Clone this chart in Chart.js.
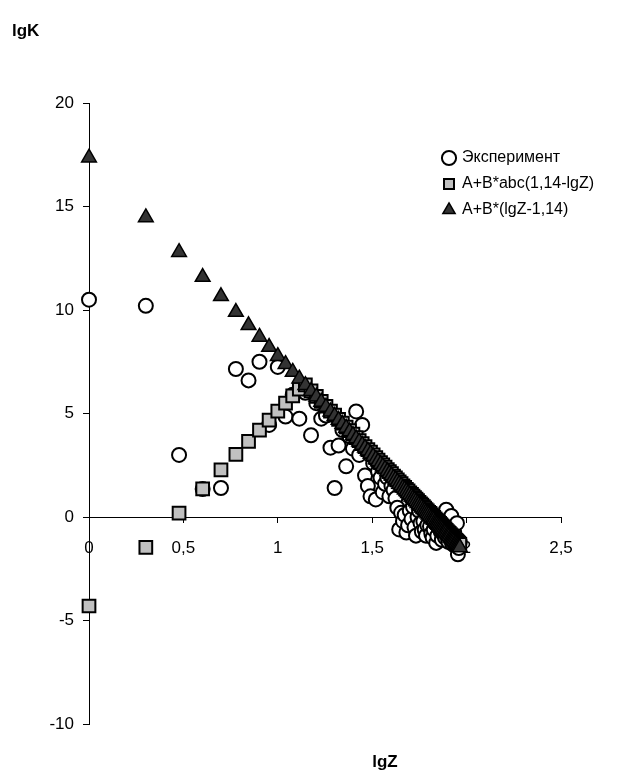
<!DOCTYPE html>
<html>
<head>
<meta charset="utf-8">
<script src="https://cdn.jsdelivr.net/npm/chart.js@4.4.1/dist/chart.umd.min.js"></script>
<style>
  html, body { margin: 0; padding: 0; background: #fff; }
  canvas { display: block; }
</style>
</head>
<body>
<canvas id="c" width="642" height="772"></canvas>
<script>
// ---- data ----
const lgZ = [0, 0.301, 0.477, 0.602, 0.699, 0.778, 0.845, 0.903, 0.954, 1,
  1.041, 1.079, 1.114, 1.146, 1.176, 1.204, 1.23, 1.255, 1.279, 1.301,
  1.322, 1.342, 1.362, 1.38, 1.398, 1.415, 1.431, 1.447, 1.462, 1.477,
  1.491, 1.505, 1.519, 1.531, 1.544, 1.556, 1.568, 1.58, 1.591, 1.602,
  1.613, 1.623, 1.633, 1.643, 1.653, 1.663, 1.672, 1.681, 1.69, 1.699,
  1.708, 1.716, 1.724, 1.732, 1.74, 1.748, 1.756, 1.763, 1.771, 1.778,
  1.785, 1.792, 1.799, 1.806, 1.813, 1.82, 1.826, 1.833, 1.839, 1.845,
  1.851, 1.857, 1.863, 1.869, 1.875, 1.881, 1.886, 1.892, 1.898, 1.903,
  1.908, 1.914, 1.919, 1.924, 1.929, 1.934, 1.94, 1.944, 1.949, 1.954,
  1.959, 1.964];

const experiment = [10.5, 10.2, 3.0, 1.35, 1.4, 7.15, 6.6, 7.5, 4.45, 7.25,
  4.85, 5.9, 4.75, 6.0, 3.95, 5.5, 4.75, 4.9, 3.35, 1.4,
  3.45, 4.2, 2.45, 3.9, 3.3, 5.1, 3.0, 4.45, 2.0, 1.5,
  1.0, 2.6, 0.85, 2.2, 1.9, 1.2, 1.6, 1.9, 1.0, 1.5,
  1.3, 0.9, 0.45, -0.6, 0.2, -0.2, 0.1, -0.75, -0.4, 0.3,
  -0.1, 0.5, -0.5, -0.9, 0.0, 0.3, -0.3, -0.7, -0.2, -0.6,
  -0.9, -0.4, 0.1, -0.45, -0.8, -1.0, -0.6, -0.3, -1.25, -0.9,
  -0.5, -0.1, -0.7, -1.1, -0.8, -0.4, -1.0, 0.35, -0.6, -1.2,
  -0.9, -0.5, 0.05, -1.3, -1.0, -0.7, -1.4, -1.1, -0.3, -1.8,
  -1.5, -1.2];

const absModel = [-4.30, -1.47, 0.19, 1.36, 2.28, 3.02, 3.65, 4.20, 4.68, 5.11,
  5.50, 5.85, 6.18, 6.38, 6.09, 5.83, 5.59, 5.35, 5.12, 4.92,
  4.72, 4.53, 4.34, 4.17, 4.00, 3.84, 3.69, 3.54, 3.40, 3.26,
  3.13, 3.00, 2.87, 2.75, 2.63, 2.52, 2.41, 2.29, 2.19, 2.09,
  1.98, 1.89, 1.79, 1.70, 1.61, 1.51, 1.43, 1.34, 1.26, 1.17,
  1.09, 1.01, 0.94, 0.86, 0.79, 0.71, 0.64, 0.57, 0.50, 0.43,
  0.36, 0.30, 0.23, 0.17, 0.10, 0.03, -0.02, -0.09, -0.15, -0.20,
  -0.26, -0.31, -0.37, -0.43, -0.48, -0.54, -0.59, -0.64, -0.70, -0.75,
  -0.79, -0.85, -0.90, -0.95, -0.99, -1.04, -1.10, -1.13, -1.18, -1.23,
  -1.27, -1.32];

const linModel = [17.36, 14.47, 12.79, 11.59, 10.66, 9.90, 9.26, 8.70, 8.21, 7.77,
  7.38, 7.01, 6.68, 6.37, 6.08, 5.81, 5.56, 5.32, 5.09, 4.88,
  4.68, 4.49, 4.30, 4.13, 3.95, 3.79, 3.64, 3.48, 3.34, 3.20,
  3.06, 2.93, 2.79, 2.68, 2.55, 2.44, 2.32, 2.21, 2.10, 2.00,
  1.89, 1.80, 1.70, 1.60, 1.51, 1.41, 1.33, 1.24, 1.15, 1.07,
  0.98, 0.90, 0.83, 0.75, 0.67, 0.60, 0.52, 0.45, 0.38, 0.31,
  0.24, 0.17, 0.11, 0.04, -0.03, -0.09, -0.15, -0.22, -0.28, -0.33,
  -0.39, -0.45, -0.51, -0.56, -0.62, -0.68, -0.73, -0.78, -0.84, -0.89,
  -0.94, -1.00, -1.04, -1.09, -1.14, -1.19, -1.24, -1.28, -1.33, -1.38,
  -1.43, -1.47];

const seriesNames = ['Эксперимент', 'A+B*abc(1,14-lgZ)', 'A+B*(lgZ-1,14)'];
const xTickValues = [0, 0.5, 1, 1.5, 2, 2.5];
const xTickLabels = ['0', '0,5', '1', '1,5', '2', '2,5'];
const yTickValues = [-10, -5, 0, 5, 10, 15, 20];
const yTickLabels = ['-10', '-5', '0', '5', '10', '15', '20'];
const xTitle = 'lgZ';
const yTitle = 'lgK';

// ---- build chart ----
const pts = arr => lgZ.map((x, i) => ({ x: x, y: arr[i] }));
const FONT = '"Liberation Sans", Arial, sans-serif';

const axisTitles = {
  id: 'axisTitles',
  afterDraw(chart) {
    const ctx = chart.ctx;
    ctx.save();
    ctx.fillStyle = '#000';
    ctx.font = 'bold 17px ' + FONT;
    ctx.textBaseline = 'middle';
    ctx.textAlign = 'left';
    ctx.fillText(yTitle, 12, 31);
    ctx.textAlign = 'center';
    ctx.fillText(xTitle, 385, 762);
    ctx.restore();
  }
};

const legendPlace = {
  id: 'legendPlace',
  afterLayout(chart) {
    const lg = chart.legend;
    if (!lg) return;
    const w = lg.width, h = lg.height;
    lg.left = 434; lg.top = 140;
    lg.right = lg.left + w; lg.bottom = lg.top + h;
  }
};

new Chart(document.getElementById('c'), {
  type: 'scatter',
  data: {
    datasets: [
      {
        label: seriesNames[0], data: pts(experiment), order: 3, clip: false,
        pointStyle: 'circle', radius: 7, hoverRadius: 7,
        backgroundColor: '#ffffff', borderColor: '#000000', borderWidth: 2
      },
      {
        label: seriesNames[1], data: pts(absModel), order: 2, clip: false,
        pointStyle: 'rect', radius: 9, hoverRadius: 9,
        backgroundColor: '#c0c0c0', borderColor: '#000000', borderWidth: 2
      },
      {
        label: seriesNames[2], data: pts(linModel), order: 1, clip: false,
        pointStyle: 'triangle', radius: 8.5, hoverRadius: 8.5,
        backgroundColor: '#333333', borderColor: '#000000', borderWidth: 1.5
      }
    ]
  },
  options: {
    responsive: false,
    animation: false,
    events: [],
    layout: { padding: { left: 49, right: 81, top: 103, bottom: 48 } },
    scales: {
      x: {
        type: 'linear', position: { y: 0 },
        min: 0, max: 2.5,
        afterBuildTicks: s => { s.ticks = xTickValues.map(v => ({ value: v })); },
        ticks: {
          color: '#000', font: { family: FONT, size: 17 }, padding: 16,
          maxRotation: 0, autoSkip: false,
          callback: (v) => xTickLabels[xTickValues.indexOf(v)]
        },
        grid: { drawOnChartArea: false, drawTicks: true, tickLength: 5, color: '#000' },
        border: { display: true, color: '#000', width: 1 }
      },
      y: {
        type: 'linear', position: 'left',
        min: -10, max: 20,
        afterBuildTicks: s => { s.ticks = yTickValues.map(v => ({ value: v })); },
        afterFit: s => { s.width = 40; },
        ticks: {
          color: '#000', font: { family: FONT, size: 17 }, padding: 9,
          autoSkip: false,
          callback: (v) => yTickLabels[yTickValues.indexOf(v)]
        },
        grid: { drawOnChartArea: false, drawTicks: true, tickLength: 6, color: '#000' },
        border: { display: true, color: '#000', width: 1 }
      }
    },
    plugins: {
      tooltip: { enabled: false },
      legend: {
        position: 'chartArea',
        align: 'start',
        labels: {
          usePointStyle: true,
          boxWidth: 10, boxHeight: 10,
          padding: 10,
          color: '#000',
          font: { family: FONT, size: 16 },
          sort: (a, b) => a.datasetIndex - b.datasetIndex
        }
      }
    }
  },
  plugins: [axisTitles, legendPlace]
});
</script>
</body>
</html>
